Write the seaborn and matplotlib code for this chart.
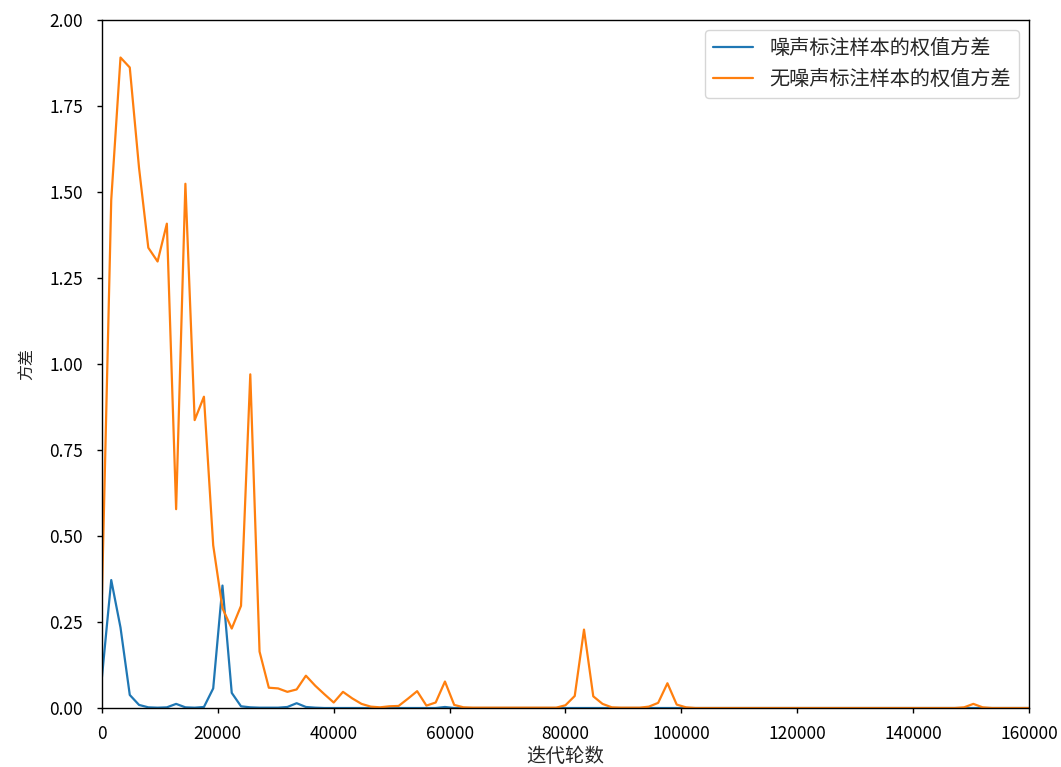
import numpy as np
import pandas as pd
import matplotlib
matplotlib.use("Agg")
import matplotlib.pyplot as plt
import seaborn as sns

# x grid: iteration counts (step 1600)
iterations = list(range(0, 160001, 1600))

series_names = ["噪声标注样本的权值方差", "无噪声标注样本的权值方差"]

noisy_var = [
    0.09, 0.372, 0.234, 0.038, 0.009, 0.002, 0.001, 0.002, 0.012, 0.002,
    0.001, 0.003, 0.057, 0.356, 0.044, 0.005, 0.002, 0.001, 0.001, 0.001,
    0.003, 0.014, 0.003, 0.001, 0.0, 0.0, 0.0, 0.0, 0.0, 0.0,
    0.0, 0.0, 0.0, 0.0, 0.0, 0.0, 0.0, 0.003, 0.0, 0.0,
    0.0, 0.0, 0.0, 0.0, 0.0, 0.0, 0.0, 0.0, 0.0, 0.0,
    0.0, 0.0, 0.0, 0.0, 0.0, 0.0, 0.0, 0.0, 0.0, 0.0,
    0.0, 0.0, 0.0, 0.0, 0.0, 0.0, 0.0, 0.0, 0.0, 0.0,
    0.0, 0.0, 0.0, 0.0, 0.0, 0.0, 0.0, 0.0, 0.0, 0.0,
    0.0, 0.0, 0.0, 0.0, 0.0, 0.0, 0.0, 0.0, 0.0, 0.0,
    0.0, 0.0, 0.0, 0.0, 0.0, 0.0, 0.0, 0.0, 0.0, 0.0,
    0.0,
]

clean_var = [
    0.33, 1.477, 1.891, 1.862, 1.57, 1.338, 1.298, 1.408, 0.578, 1.524,
    0.837, 0.905, 0.473, 0.29, 0.231, 0.297, 0.970, 0.164, 0.059, 0.057,
    0.047, 0.054, 0.094, 0.065, 0.04, 0.016, 0.047, 0.028, 0.012, 0.004,
    0.002, 0.005, 0.006, 0.027, 0.049, 0.007, 0.016, 0.077, 0.009, 0.002,
    0.001, 0.001, 0.001, 0.001, 0.001, 0.001, 0.001, 0.001, 0.001, 0.001,
    0.008, 0.035, 0.228, 0.034, 0.012, 0.002, 0.001, 0.001, 0.001, 0.004,
    0.015, 0.072, 0.01, 0.002, 0.0, 0.0, 0.0, 0.0, 0.0, 0.0,
    0.0, 0.0, 0.0, 0.0, 0.0, 0.0, 0.0, 0.0, 0.0, 0.0,
    0.0, 0.0, 0.0, 0.0, 0.0, 0.0, 0.0, 0.0, 0.0, 0.0,
    0.0, 0.0, 0.0, 0.002, 0.012, 0.002, 0.0, 0.0, 0.0, 0.0,
    0.0,
]

x_ticks = [0, 20000, 40000, 60000, 80000, 100000, 120000, 140000, 160000]
y_ticks = [0.0, 0.25, 0.5, 0.75, 1.0, 1.25, 1.5, 1.75, 2.0]

sns.set_style("ticks")
plt.rcParams["font.family"] = ["Noto Sans CJK SC", "DejaVu Sans"]
plt.rcParams["axes.unicode_minus"] = False

df = pd.DataFrame({
    "iter": iterations * 2,
    "var": noisy_var + clean_var,
    "series": [series_names[0]] * len(iterations) + [series_names[1]] * len(iterations),
})

fig = plt.figure(figsize=(10.61, 7.67), dpi=100)
ax = fig.add_subplot(111)
fig.subplots_adjust(left=0.0961, right=0.9698, top=0.9739, bottom=0.0769)

sns.lineplot(data=df, x="iter", y="var", hue="series", hue_order=series_names,
             palette=["#1f77b4", "#ff7f0e"], linewidth=1.6, ax=ax)

ax.set_xlim(0, 160000)
ax.set_ylim(0, 2.0)
ax.set_xticks(x_ticks)
ax.set_xticklabels([str(v) for v in x_ticks], fontsize=12.5)
ax.set_yticks(y_ticks)
ax.set_yticklabels([f"{v:.2f}" for v in y_ticks], fontsize=12.5)
ax.set_xlabel("迭代轮数", fontsize=14, labelpad=2)
ax.set_ylabel("方差", fontsize=11.5, labelpad=10)
for s in ax.spines.values():
    s.set_visible(True)
    s.set_color("black")
    s.set_linewidth(1.0)
ax.tick_params(direction="out", length=3.5, width=1, colors="black")
ax.tick_params(axis="x", pad=9)
ax.tick_params(axis="y", pad=10)

handles, labels = ax.get_legend_handles_labels()
ax.legend(handles, labels, loc="upper right", fontsize=14.5, frameon=True)

fig.savefig("out.png", dpi=100)
